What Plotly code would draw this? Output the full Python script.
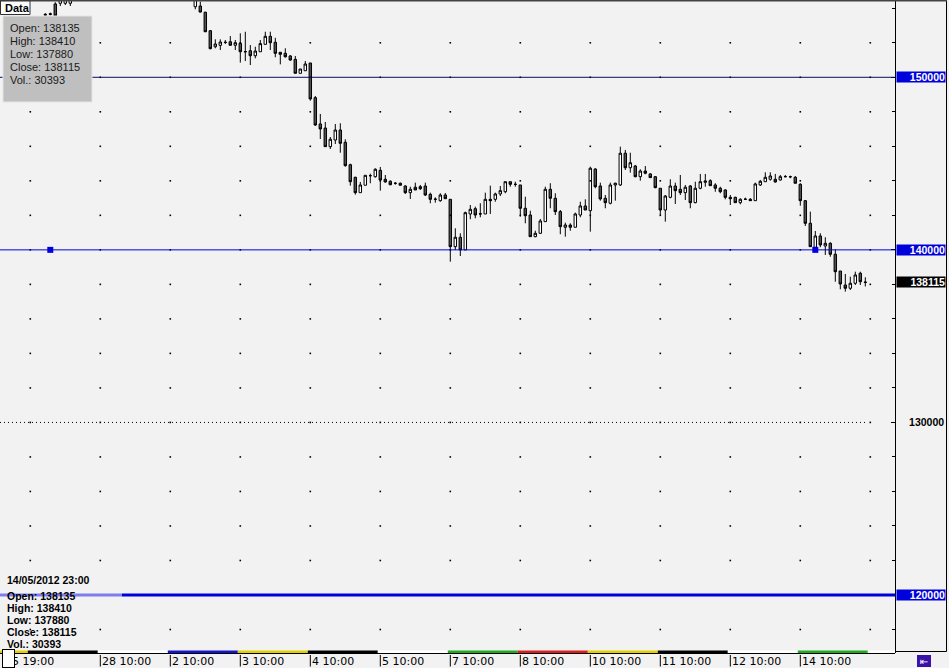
import plotly.graph_objects as go

# ---------------- data ----------------
N = None
bar_index = list(range(9, 174))

opens = [
    153650, 153680, 154250, 154290, 154290, 154290,
    N, N, N, N, N, N, N, N, N, N, N, N, N, N, N, N, N, N, N, N, N, N, N, N,
    154090, 154130, 153770, 152700, 151770, 151850, 152030, 152060, 151855, 151970,
    151490, 151540, 151250, 151480, 151910, 152375, 152030, 151450, 151390, 151235,
    151040, 150230, 150380, 150830, 148820, 147295, 147060, 145980, 146365, 146945,
    146235, 144935, 144205, 143315, 143745, 144300, 144240, 144610, 144090, 143975,
    143860, 143860, 143700, 143315, 143630, 143660, 143700, 143220, 142940, 142850,
    143180, 142930, 140185, 140730, 139995, 142080, 142385, 142080, 142080, 142930,
    142930, 143240, 143370, 143950, 143800, 143760, 142410, 142020, 140765, 140960,
    141635, 143510, 142990, 142215, 141310, 141440, 141310, 142020, 142545, 142270,
    144685, 143700, 142990, 142700, 143760, 143760, 145600, 144760, 144860, 144240,
    144570, 144400, 144240, 143570, 142310, 143045, 143700, 143510, 143315, 143700,
    142735, 143570, 143915, 144010, 143760, 143570, 143470, 143045, 143045, 142735,
    142930, 142930, 142850, 143760, 143950, 144090, 144090, 144050, 144240, 144240,
    144205, 143800, 142850, 141540, 140150, 140805, 140225, 140380, 139745, 138775,
    137965, 137775, 138065, 138645, 138135,
]
highs = [
    153720, 153750, 154350, 154700, 154700, 154700,
    N, N, N, N, N, N, N, N, N, N, N, N, N, N, N, N, N, N, N, N, N, N, N, N,
    154800, 154380, 153800, 152740, 152200, 152200, 152160, 152390, 152160, 152550,
    152640, 151870, 151770, 152160, 152640, 152640, 152290, 151450, 151680, 151290,
    151235, 150480, 150945, 150830, 148915, 147875, 147410, 146540, 147295, 147335,
    146410, 144995, 144240, 143935, 144320, 144415, 144730, 144805, 144340, 144030,
    143935, 143900, 143745, 143660, 143895, 143760, 143895, 143315, 143045, 143280,
    143295, 142930, 141250, 140960, 142215, 142600, 142505, 142700, 143315, 143720,
    143315, 143700, 143950, 143950, 143950, 143760, 143080, 142270, 141110, 141790,
    143660, 143860, 143280, 142310, 141575, 141540, 142155, 142790, 142930, 144820,
    144730, 143895, 143180, 143895, 143895, 145980, 145790, 145630, 144920, 144670,
    144860, 144440, 144280, 143570, 143180, 144090, 143895, 144340, 143760, 143760,
    143950, 144400, 144400, 144090, 143860, 143660, 143510, 143180, 143080, 142990,
    143025, 143000, 143895, 144050, 144495, 144495, 144400, 144340, 144340, 144300,
    144280, 143860, 142890, 142215, 141095, 140960, 140730, 140440, 140035, 138775,
    138605, 138445, 138735, 138735, 138410,
]
lows = [
    153540, 153580, 153520, 154130, 154190, 154130,
    N, N, N, N, N, N, N, N, N, N, N, N, N, N, N, N, N, N, N, N, N, N, N, N,
    153940, 153760, 152620, 151620, 151680, 151580, 151930, 151850, 151580, 150850,
    150940, 150710, 151100, 151480, 151910, 151580, 151160, 150750, 151140, 150960,
    150230, 150230, 150380, 148645, 147180, 146425, 145980, 145845, 146135, 145630,
    144820, 143720, 143200, 143315, 143745, 143860, 144185, 143430, 143895, 143745,
    143775, 143745, 143240, 142950, 143470, 143470, 143120, 142700, 142735, 142790,
    142965, 139315, 139995, 139645, 139995, 141775, 141830, 141890, 142080, 142080,
    142790, 143120, 143280, 143660, 143660, 141925, 141540, 140765, 140730, 140920,
    141635, 142410, 142020, 140905, 140765, 141110, 141310, 141890, 142310, 141055,
    143570, 142850, 142410, 142640, 142850, 143700, 144630, 144475, 144205, 144010,
    144380, 144185, 143570, 142020, 141635, 142990, 142660, 143180, 142890, 142410,
    142700, 143510, 143660, 143700, 143370, 143280, 142930, 142600, 142735, 142640,
    142890, 142850, 142850, 143700, 143950, 144010, 143895, 144010, 144205, 144150,
    143860, 142560, 141385, 140185, 140090, 140150, 139705, 139605, 138155, 137715,
    137580, 137675, 137965, 137965, 137880,
]
closes = [
    153600, 153650, 153560, 154650, 154650, 154650,
    N, N, N, N, N, N, N, N, N, N, N, N, N, N, N, N, N, N, N, N, N, N, N, N,
    154600, 153780, 152640, 151660, 151930, 152045, 152020, 151855, 152005, 151480,
    151480, 151250, 151520, 151950, 152375, 152005, 151390, 151330, 151190, 151000,
    150232, 150480, 150770, 148745, 147235, 147005, 145980, 146410, 146945, 146175,
    144880, 143950, 143315, 143760, 144320, 144300, 144670, 144050, 143935, 143775,
    143855, 143745, 143315, 143510, 143470, 143545, 143180, 142930, 142930, 143180,
    142965, 140185, 140730, 139995, 142155, 142350, 142020, 142090, 142930, 142850,
    143240, 143430, 143950, 143800, 143795, 142410, 141980, 140765, 140960, 141675,
    143510, 142990, 142215, 141345, 141440, 141310, 142080, 142545, 142310, 144730,
    143660, 142950, 142735, 143760, 143860, 145600, 144760, 145050, 144240, 144570,
    144440, 144185, 143605, 142310, 143120, 143700, 143430, 143315, 143630, 142735,
    143570, 143950, 143990, 143720, 143570, 143370, 143045, 142965, 142735, 142930,
    142935, 142850, 143820, 143975, 144205, 144280, 143935, 144240, 144245, 144235,
    143860, 142850, 141540, 140185, 140805, 140285, 140380, 139745, 138735, 138025,
    137775, 138065, 138545, 138155, 138115,
]

x_label_pos = [20, 34, 48, 62, 76, 90, 104, 118, 132, 146, 160]
x_labels = ["28 10:00", "2 10:00", "3 10:00", "4 10:00", "5 10:00", "7 10:00",
            "8 10:00", "10 10:00", "11 10:00", "12 10:00", "14 10:00"]
first_label = "25 19:00"

day_bounds = [-1, 5.5, 19.5, 33.5, 47.5, 61.5, 75.5, 89.5, 103.5, 117.5, 131.5, 145.5, 159.5, 173.5, 180]
day_colors = ["#e2cf00", "#000000", "#ffffff", "#1414c8", "#e2cf00", "#000000", "#ffffff",
              "#1faa1f", "#d81e1e", "#e2cf00", "#000000", "#ffffff", "#1faa1f", "#ffffff"]

grid_x = [6 + 14 * k for k in range(13)]
grid_y = list(range(118000, 154000, 2000))

hlines = [150000, 140000, 120000]
dotted_level = 130000
marker_idx = [10, 163]
marker_level = 140000

last = dict(o=138135, h=138410, l=137880, c=138115, v=30393)
last_time = "14/05/2012 23:00"

# ---------------- geometry helpers (layout only) ----------------
PW, PH = 895, 653
def px(x):
    return x / PW
def py(y):
    return (PH - y) / PH

Y_TOP, Y_BOT = 154479, 116639
X0, X1 = -0.06, 178.94

BG = "#f2f2f2"
BLUE = "#0000dc"
FONT_R = "Liberation Sans"
FONT_X = "DejaVu Sans"

fig = go.Figure()

# grid dots
gx, gy = [], []
for yv in grid_y:
    for xv in grid_x:
        gx.append(xv)
        gy.append(yv)
fig.add_trace(go.Scatter(x=gx, y=gy, mode="markers",
                         marker=dict(symbol="square", size=1.6, color="#000000", line_width=0),
                         hoverinfo="skip", showlegend=False))

fig.add_trace(go.Candlestick(
    x=bar_index, open=opens, high=highs, low=lows, close=closes,
    increasing=dict(fillcolor="#ffffff", line=dict(color="#000000", width=1)),
    decreasing=dict(fillcolor="#505050", line=dict(color="#000000", width=1)),
    whiskerwidth=0, hoverinfo="skip", showlegend=False,
))

fig.add_trace(go.Scatter(x=marker_idx, y=[marker_level] * len(marker_idx), mode="markers",
                         marker=dict(symbol="square", size=6, color=BLUE, line_width=0),
                         hoverinfo="skip", showlegend=False))

shapes = []
# horizontal levels
shapes.append(dict(type="line", xref="paper", yref="y", x0=0, x1=1, y0=hlines[0], y1=hlines[0],
                   line=dict(color="#0a0a60", width=1), layer="above"))
shapes.append(dict(type="line", xref="paper", yref="y", x0=0, x1=1, y0=hlines[1], y1=hlines[1],
                   line=dict(color=BLUE, width=1), layer="above"))
shapes.append(dict(type="line", xref="paper", yref="y", x0=px(122), x1=1, y0=hlines[2], y1=hlines[2],
                   line=dict(color=BLUE, width=3), layer="above"))
shapes.append(dict(type="line", xref="paper", yref="y", x0=0, x1=px(122), y0=hlines[2], y1=hlines[2],
                   line=dict(color="#7d7df0", width=3), layer="above"))
shapes.append(dict(type="line", xref="paper", yref="y", x0=0, x1=px(868), y0=dotted_level, y1=dotted_level,
                   line=dict(color="#000000", width=1, dash="1px,3px"), layer="above"))

# day colour strip
for i, col in enumerate(day_colors):
    shapes.append(dict(type="rect", xref="x", yref="paper", x0=day_bounds[i], x1=day_bounds[i + 1],
                       y0=py(653), y1=py(650.6), fillcolor=col, line_width=0, layer="above"))
# bottom border of plot
shapes.append(dict(type="line", xref="paper", yref="paper", x0=0, x1=1, y0=py(653.5), y1=py(653.5),
                   line=dict(color="#000000", width=1), layer="above"))
# x label bars
for xv in x_label_pos:
    shapes.append(dict(type="line", xref="x", yref="paper", x0=xv, x1=xv, y0=py(655), y1=py(666.5),
                       line=dict(color="#000000", width=1)))
# right axis panel box
shapes.append(dict(type="rect", xref="paper", yref="paper", x0=px(895.5), x1=px(946.5), y0=py(651.5), y1=py(0),
                   line=dict(color="#000000", width=1), fillcolor="rgba(0,0,0,0)"))
# top border
shapes.append(dict(type="line", xref="paper", yref="paper", x0=0, x1=px(947), y0=py(0.7), y1=py(0.7),
                   line=dict(color="#444444", width=1.5), layer="above"))
# info box
shapes.append(dict(type="rect", xref="paper", yref="paper", x0=px(3), x1=px(92), y0=py(102), y1=py(16),
                   fillcolor="#bfbfbf", line=dict(color="#e4e4e4", width=1), layer="above"))
# Data tab
shapes.append(dict(type="rect", xref="paper", yref="paper", x0=px(0.5), x1=px(30), y0=py(14.5), y1=py(1),
                   fillcolor="#fbfbfb", line=dict(color="#303030", width=1), layer="above"))
# bottom-right icon
shapes.append(dict(type="rect", xref="paper", yref="paper", x0=px(917), x1=px(931), y0=py(667), y1=py(655),
                   fillcolor="#3a12a8", line_width=0))

ann = []
# Data tab text
ann.append(dict(xref="paper", yref="paper", x=px(3), y=py(7.5), xanchor="left", yanchor="middle",
                text="<b>Data</b>", showarrow=False, font=dict(family=FONT_R, size=11, color="#000000")))
# info box lines
info_lines = [f"Open: {last['o']}", f"High: {last['h']}", f"Low: {last['l']}",
              f"Close: {last['c']}", f"Vol.: {last['v']}"]
for k, t in enumerate(info_lines):
    ann.append(dict(xref="paper", yref="paper", x=px(7.5), y=py(27.5 + 13.2 * k), xanchor="left",
                    yanchor="middle", text=t, showarrow=False,
                    font=dict(family=FONT_R, size=11, color="#1a1a1a")))
# bottom-left block
ann.append(dict(xref="paper", yref="paper", x=px(4.5), y=py(579.5), xanchor="left", yanchor="middle",
                text=f"<b>{last_time}</b>", showarrow=False,
                font=dict(family=FONT_R, size=10.5, color="#000000")))
for k, t in enumerate(info_lines):
    ann.append(dict(xref="paper", yref="paper", x=px(4.5), y=py(595.5 + 12 * k), xanchor="left",
                    yanchor="middle", text=f"<b>{t}</b>", showarrow=False,
                    font=dict(family=FONT_R, size=10.5, color="#000000")))
# x labels
for xv, t in zip(x_label_pos, x_labels):
    ann.append(dict(xref="x", yref="paper", x=xv, y=py(661), xanchor="left", yanchor="middle",
                    text=t, showarrow=False,
                    font=dict(family=FONT_X, size=11, color="#000000")))
ann.append(dict(xref="paper", yref="paper", x=px(3), y=py(661), xanchor="left", yanchor="middle",
                text=first_label, showarrow=False, font=dict(family=FONT_X, size=11, color="#000000")))
# bottom-left white box, drawn over the first (partly hidden) label
ann.append(dict(xref="paper", yref="paper", x=px(1.5), y=py(667.5), xanchor="left", yanchor="bottom",
                text=" ", showarrow=False, width=11, height=17, bgcolor="#ffffff",
                bordercolor="#000000", borderwidth=1, borderpad=0,
                font=dict(family=FONT_R, size=10, color="#ffffff")))
# price boxes
for val, col in [(hlines[0], BLUE), (hlines[1], BLUE), (last["c"], "#000000"), (hlines[2], BLUE)]:
    ann.append(dict(xref="paper", yref="y", x=px(896), y=val, xanchor="left", yanchor="middle",
                    text=f"<b>{val}</b>", showarrow=False, width=48, height=10, align="right",
                    bgcolor=col, borderpad=0,
                    font=dict(family=FONT_R, size=10.5, color="#ffffff")))
# icon glyph
ann.append(dict(xref="paper", yref="paper", x=px(924), y=py(661), xanchor="center", yanchor="middle",
                text="⇤", showarrow=False, font=dict(family="DejaVu Sans", size=10, color="#ffffff")))

fig.update_layout(
    width=949, height=668,
    margin=dict(l=0, r=949 - PW, t=0, b=668 - PH, pad=0),
    paper_bgcolor=BG, plot_bgcolor=BG,
    shapes=shapes, annotations=ann,
    showlegend=False, hovermode=False,
    xaxis=dict(range=[X0, X1], rangeslider=dict(visible=False), showgrid=False, zeroline=False,
               showticklabels=False, ticks="", showline=False, automargin=False, fixedrange=True),
    yaxis=dict(range=[Y_BOT, Y_TOP], side="right", showgrid=False, zeroline=False,
               tickmode="linear", tick0=120000, dtick=10000, ticks="inside", ticklen=4,
               tickcolor="#000000", showline=True, linecolor="#000000", linewidth=1,
               minor=dict(dtick=2000, ticks="inside", ticklen=3, tickcolor="#000000"),
               tickfont=dict(family=FONT_R, size=10.5, color="#000000", weight="bold"),
               ticklabelstandoff=11, automargin=False, fixedrange=True, separatethousands=False,
               tickformat="d"),
)

fig.write_html("out.html", config={"displayModeBar": False, "staticPlot": True},
               post_script="document.body.style.margin='0';document.body.style.background='#f2f2f2';")
